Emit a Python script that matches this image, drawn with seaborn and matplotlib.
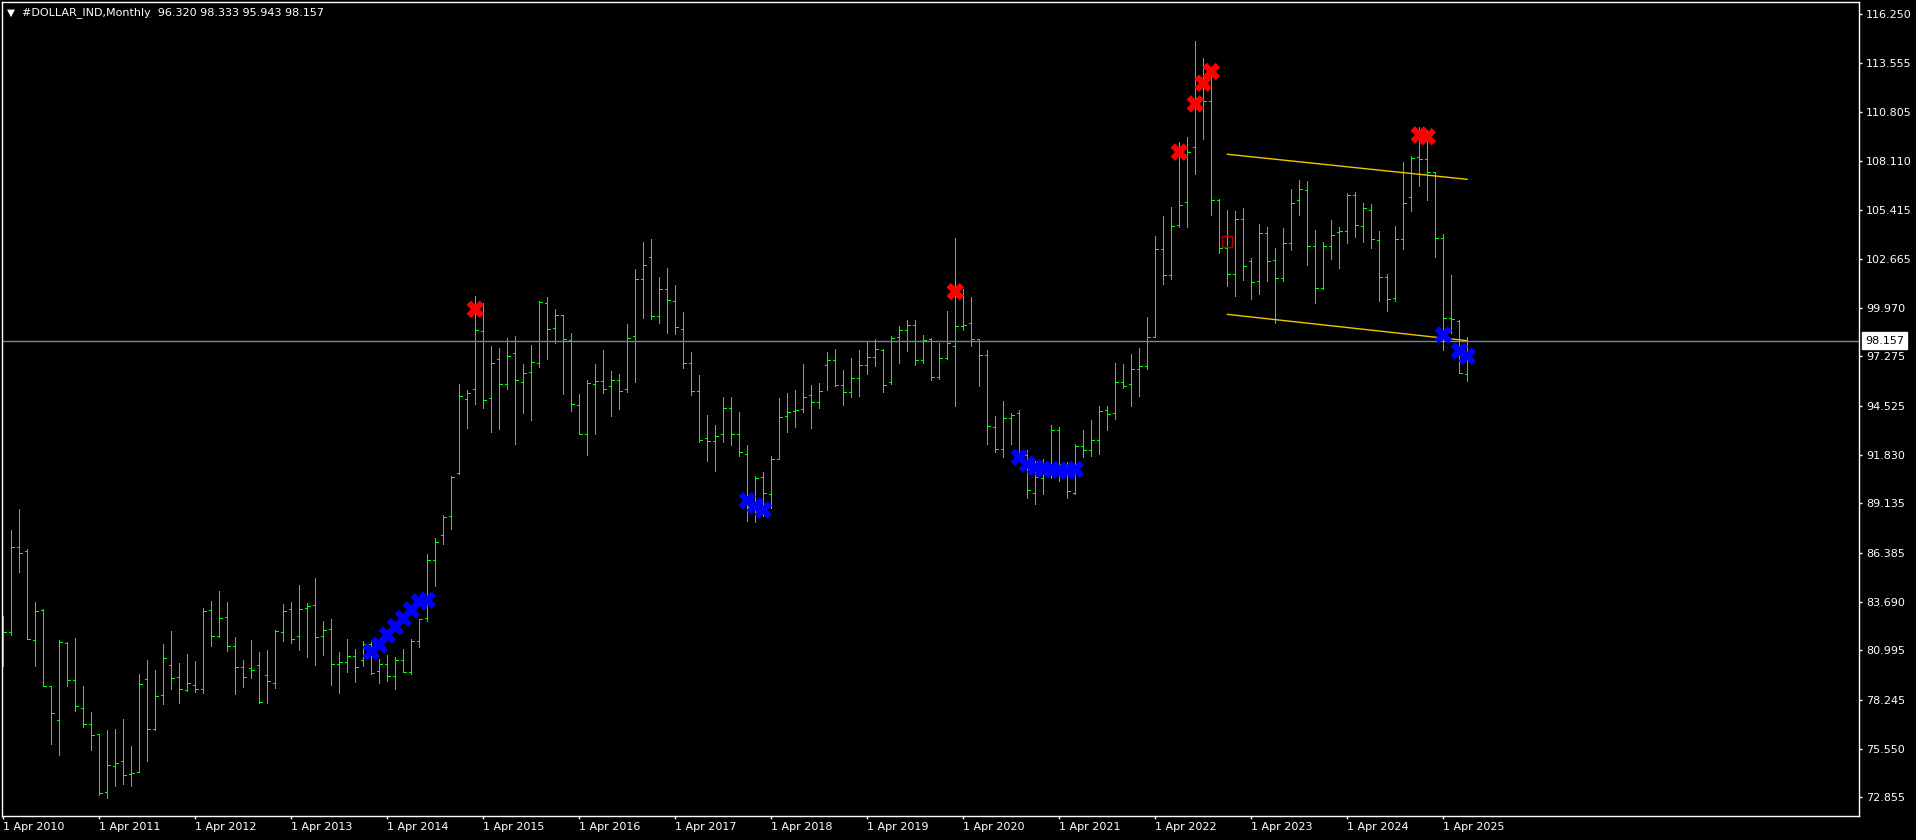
import numpy as np
import pandas as pd
import seaborn as sns
import matplotlib
matplotlib.use("Agg")
import matplotlib.pyplot as plt

# monthly bars, first bar = April 2010
first_month = "2010-04-01"
opens = [81.00, 82.03, 86.74, 86.48, 81.59, 83.23, 79.00, 77.12, 81.40, 79.33, 77.78, 76.90,
         76.34, 73.17, 74.57, 74.85, 74.13, 74.24, 79.43, 76.66, 78.50, 80.17, 79.50, 78.80,
         79.06, 78.87, 83.23, 81.77, 82.83, 81.22, 80.05, 79.99, 80.17, 79.61, 79.17, 82.01,
         83.27, 81.77, 83.32, 83.49, 81.79, 82.16, 80.24, 80.35, 80.68, 80.46, 81.35, 79.85,
         80.22, 79.57, 80.46, 79.78, 81.51, 82.77, 85.98, 87.37, 88.42, 90.82, 94.92, 95.46,
         98.67, 94.96, 97.12, 95.73, 97.45, 95.84, 96.40, 96.90, 100.22, 98.84, 99.56, 98.19,
         94.57, 92.96, 95.73, 95.90, 95.62, 95.95, 95.46, 98.39, 101.55, 102.77, 99.50, 101.00,
         100.33, 98.78, 96.90, 95.35, 92.74, 92.58, 92.96, 94.40, 92.98, 91.86, 88.92, 90.58,
         89.64, 91.58, 93.96, 94.24, 94.35, 95.12, 94.73, 96.79, 97.08, 95.68, 95.29, 96.07,
         96.79, 97.23, 97.62, 95.84, 98.34, 98.72, 99.00, 97.06, 98.23, 96.12, 97.19, 97.84,
         98.98, 99.11, 98.22, 97.36, 93.35, 92.13, 93.85, 94.15, 91.84, 89.74, 90.53, 90.90,
         93.18, 91.30, 89.73, 92.34, 92.07, 92.63, 94.30, 94.15, 95.85, 95.73, 96.57, 96.73,
         98.37, 103.21, 101.78, 104.55, 105.83, 108.86, 111.60, 111.41, 105.93, 103.27, 101.83, 104.87,
         102.55, 101.44, 104.10, 102.60, 101.61, 103.55, 105.93, 106.48, 103.42, 101.05, 103.42, 104.19,
         104.21, 106.20, 104.49, 105.37, 103.75, 101.66, 100.52, 103.77, 106.09, 108.31, 108.20, 107.50,
         103.82, 99.39, 99.24, 96.320]
highs = [82.90, 87.66, 88.83, 86.59, 83.66, 83.29, 79.02, 81.55, 81.44, 81.68, 79.02, 77.58,
         76.34, 76.58, 76.64, 77.19, 75.70, 79.69, 80.44, 79.89, 81.35, 82.07, 80.28, 80.79,
         80.41, 83.36, 83.73, 84.28, 83.66, 81.74, 80.46, 81.57, 80.90, 81.01, 82.10, 83.56,
         83.67, 84.62, 83.60, 85.00, 82.62, 82.73, 80.90, 81.62, 81.07, 81.53, 81.44, 80.50,
         80.74, 80.61, 81.07, 81.62, 82.71, 86.31, 87.22, 88.48, 90.64, 95.73, 95.42, 100.63,
         100.22, 97.86, 97.75, 98.30, 98.41, 96.86, 97.91, 100.35, 100.57, 99.91, 99.57, 98.58,
         95.20, 95.97, 96.86, 97.64, 96.47, 96.31, 99.08, 102.10, 103.62, 103.78, 101.68, 102.18,
         101.24, 99.74, 97.52, 96.25, 94.03, 93.48, 95.03, 95.03, 94.20, 92.37, 90.64, 90.88,
         91.74, 94.98, 95.25, 95.42, 96.86, 95.70, 95.81, 97.52, 97.69, 96.53, 97.19, 97.64,
         98.08, 98.23, 97.69, 98.41, 98.95, 99.30, 99.30, 98.47, 98.30, 98.02, 99.80, 103.82,
         101.01, 100.56, 98.22, 97.64, 93.98, 94.82, 94.15, 94.32, 92.07, 91.50, 91.60, 93.46,
         93.35, 91.44, 92.44, 93.20, 93.77, 94.53, 94.53, 96.92, 96.88, 97.41, 97.76, 99.47,
         103.94, 105.06, 105.56, 109.17, 109.43, 114.74, 113.83, 112.87, 106.00, 105.37, 105.32, 105.48,
         102.71, 104.60, 104.43, 103.27, 104.38, 106.56, 107.04, 106.98, 104.28, 103.60, 104.84, 104.45,
         106.33, 106.39, 105.78, 105.71, 104.23, 101.85, 104.51, 108.03, 108.38, 110.01, 109.82, 107.52,
         104.06, 101.77, 99.30, 98.333]
lows = [80.15, 81.85, 85.35, 81.62, 80.15, 79.02, 75.81, 75.20, 79.04, 77.65, 76.77, 75.49,
        73.00, 72.83, 73.48, 73.59, 73.50, 74.24, 74.87, 76.60, 78.04, 78.85, 78.10, 78.73,
        78.69, 78.65, 81.26, 81.74, 80.98, 78.60, 78.95, 79.48, 78.10, 78.10, 78.93, 81.53,
        81.42, 81.03, 80.64, 80.20, 80.76, 79.09, 78.65, 79.81, 79.26, 80.13, 79.67, 79.21,
        79.32, 78.87, 79.78, 79.70, 81.20, 82.64, 84.58, 86.91, 87.74, 90.75, 93.33, 94.66,
        94.44, 93.11, 93.28, 95.49, 92.45, 94.16, 93.78, 96.68, 97.16, 98.04, 95.22, 94.26,
        92.96, 91.84, 93.00, 95.27, 94.00, 94.39, 95.31, 95.88, 99.43, 99.37, 99.15, 98.60,
        98.54, 96.66, 95.16, 92.56, 91.50, 90.95, 92.56, 92.39, 91.78, 88.18, 88.12, 88.44,
        88.90, 91.58, 93.11, 93.39, 94.22, 93.33, 94.44, 95.42, 95.64, 94.59, 95.05, 95.11,
        96.32, 96.77, 95.33, 95.77, 96.93, 97.60, 96.82, 96.93, 95.99, 96.05, 97.12, 94.55,
        98.76, 97.87, 95.66, 92.45, 91.98, 91.69, 92.40, 91.79, 89.46, 89.13, 89.63, 90.55,
        90.36, 89.46, 89.65, 91.73, 91.79, 91.90, 93.22, 93.79, 95.54, 94.55, 95.11, 96.61,
        98.33, 101.27, 101.59, 104.47, 104.47, 107.41, 109.33, 105.13, 103.03, 101.20, 100.65, 101.53,
        100.44, 100.76, 101.48, 99.15, 101.48, 103.19, 105.13, 102.35, 100.26, 101.00, 102.68, 102.18,
        103.56, 103.90, 103.62, 103.29, 100.35, 99.81, 100.35, 103.23, 105.34, 106.72, 105.95, 102.79,
        97.64, 98.56, 96.34, 95.943]
closes = [81.99, 86.70, 86.37, 81.62, 83.16, 79.04, 77.51, 81.46, 79.33, 77.89, 76.93, 76.29,
          73.07, 74.66, 74.74, 74.07, 74.18, 79.13, 76.66, 78.45, 80.55, 79.45, 78.87, 79.17,
          78.87, 83.18, 81.79, 82.79, 81.22, 80.05, 79.50, 79.89, 78.12, 79.28, 82.05, 83.16,
          81.61, 83.27, 83.45, 81.74, 82.12, 80.24, 80.35, 80.68, 80.05, 81.35, 79.76, 80.22,
          79.57, 80.46, 79.80, 81.53, 82.71, 85.98, 86.98, 88.36, 90.60, 95.07, 95.23, 98.72,
          94.87, 96.90, 95.73, 97.28, 95.95, 96.34, 96.95, 100.29, 98.78, 99.56, 98.23, 94.63,
          92.96, 95.79, 95.90, 95.49, 95.95, 95.35, 98.28, 101.55, 102.33, 99.50, 101.00, 100.39,
          98.89, 96.90, 95.35, 92.63, 92.58, 92.85, 94.40, 92.98, 91.97, 88.92, 90.53, 89.69,
          91.58, 93.90, 94.18, 94.29, 95.01, 94.77, 95.35, 97.08, 95.68, 95.29, 96.07, 96.79,
          97.23, 97.67, 95.68, 98.28, 98.72, 99.00, 97.06, 98.19, 96.12, 97.19, 98.00, 98.95,
          99.00, 98.22, 97.36, 93.41, 92.13, 93.85, 94.02, 91.84, 89.86, 90.60, 90.90, 93.18,
          91.30, 89.82, 92.30, 92.07, 92.63, 94.25, 94.08, 95.85, 95.62, 96.57, 96.73, 98.37,
          103.21, 101.78, 104.49, 105.69, 108.59, 111.60, 111.41, 105.93, 103.27, 101.83, 104.87, 102.27,
          101.38, 104.10, 102.55, 101.61, 103.55, 105.80, 106.54, 103.42, 101.05, 103.42, 104.03, 104.25,
          106.20, 104.54, 105.48, 103.80, 101.66, 100.46, 103.77, 105.76, 108.25, 108.20, 107.50, 103.82,
          99.39, 99.34, 96.34, 98.157]

# indicator marks (bar index, price)
red_idx = [59, 119, 147, 149, 150, 151, 177, 178]
red_val = [99.89, 100.87, 108.60, 111.27, 112.41, 113.06, 109.55, 109.45]
blue_idx = [46, 47, 48, 49, 50, 51, 52, 53, 93, 94, 95,
            127, 128, 129, 130, 131, 132, 133, 134, 180, 182, 183]
blue_val = [80.92, 81.29, 81.85, 82.31, 82.77, 83.23, 83.69, 83.78, 89.29, 88.99, 88.77,
            91.69, 91.31, 91.12, 91.02, 91.02, 90.97, 90.93, 91.02, 98.47, 97.58, 97.30]
box_idx = [153]
box_val = [103.64]

# channel lines (start bar, end bar)
chan_idx = [153, 183]
chan_upper = [108.48, 107.09]
chan_lower = [99.61, 98.15]

last_price = 98.157
price_ticks = [116.250, 113.555, 110.805, 108.110, 105.415, 102.665, 99.970, 97.275, 94.525,
               91.830, 89.135, 86.385, 83.690, 80.995, 78.245, 75.550, 72.855]
tick_years = list(range(2010, 2026))

W, H = 1916, 840
sns.set_style("dark", {"axes.facecolor": "black", "figure.facecolor": "black",
                       "axes.edgecolor": "white", "text.color": "white",
                       "xtick.color": "white", "ytick.color": "white"})
plt.rcParams['font.family'] = ['DejaVu Sans']

bars = pd.DataFrame({"open": opens, "high": highs, "low": lows, "close": closes})
bars["date"] = pd.date_range(first_month, periods=len(bars), freq="MS")
bars["x"] = np.arange(len(bars))

fig = plt.figure(figsize=(W / 100, H / 100), dpi=100)
ax = fig.add_axes([2 / W, 24 / H, 1857 / W, 814 / H])

green = "#00FF00"
w = 0.32
lw = 0.7
ax.vlines(bars.x, bars.low, bars.high, color=green, lw=lw, antialiased=False)
ax.hlines(bars.open, bars.x - w, bars.x, color=green, lw=lw, antialiased=False)
ax.hlines(bars.close, bars.x, bars.x + w, color=green, lw=lw, antialiased=False)

sns.lineplot(x=chan_idx, y=chan_upper, color="#F2C500", lw=1, ax=ax)
sns.lineplot(x=chan_idx, y=chan_lower, color="#F2C500", lw=1, ax=ax)

ax.axhline(last_price, color="#778899", lw=1)

sns.scatterplot(x=red_idx, y=red_val, marker="X", s=160, color="#FF0000",
                edgecolor="none", linewidth=0, ax=ax, zorder=5)
sns.scatterplot(x=blue_idx, y=blue_val, marker="X", s=160, color="#0000FF",
                edgecolor="none", linewidth=0, ax=ax, zorder=5)
sns.scatterplot(x=box_idx, y=box_val, marker="s", s=55, facecolor="none",
                edgecolor="#C00000", linewidth=1, ax=ax, zorder=5)

ax.set_xlim((2 - 3.3) / 8, (1859 - 3.3) / 8)
ax.set_ylim(116.25 - (816 - 14) / 18.05, 116.25 + (14 - 2) / 18.05)

for s in ax.spines.values():
    s.set_color("white")
    s.set_linewidth(1)
    s.set_visible(True)

ax.yaxis.tick_right()
ax.set_yticks(price_ticks)
ax.set_yticklabels([f"{v:.3f}" for v in price_ticks])
xt = [bars.x[bars.date == pd.Timestamp(f"{y}-04-01")].iloc[0] for y in tick_years]
ax.set_xticks(xt)
ax.set_xticklabels([f"1 Apr {y}" for y in tick_years], ha="left")
ax.tick_params(axis="y", right=True, left=False, length=2.2, width=1, pad=3,
               labelsize=8, colors="white", direction="out")
ax.tick_params(axis="x", bottom=True, length=2.2, width=1, pad=2,
               labelsize=8, colors="white", direction="out")
ax.set_xlabel("")
ax.set_ylabel("")
ax.grid(False)

ax.annotate(f"{last_price:.3f}", xy=(1, last_price), xycoords=("axes fraction", "data"),
            xytext=(6, 0), textcoords="offset pixels", ha="left", va="center",
            fontsize=8, color="black", annotation_clip=False,
            bbox=dict(boxstyle="square,pad=0.3", fc="white", ec="white"))

fig.text(7 / W, 1 - 13 / H, "\u25bc", fontsize=7.5, color="white", va="center", ha="left")
fig.text(22 / W, 1 - 13 / H,
         f"#DOLLAR_IND,Monthly  {opens[-1]:.3f} {highs[-1]:.3f} {lows[-1]:.3f} {closes[-1]:.3f}",
         fontsize=8, color="white", va="center", ha="left")

fig.savefig("out.png", dpi=100, facecolor="black")
